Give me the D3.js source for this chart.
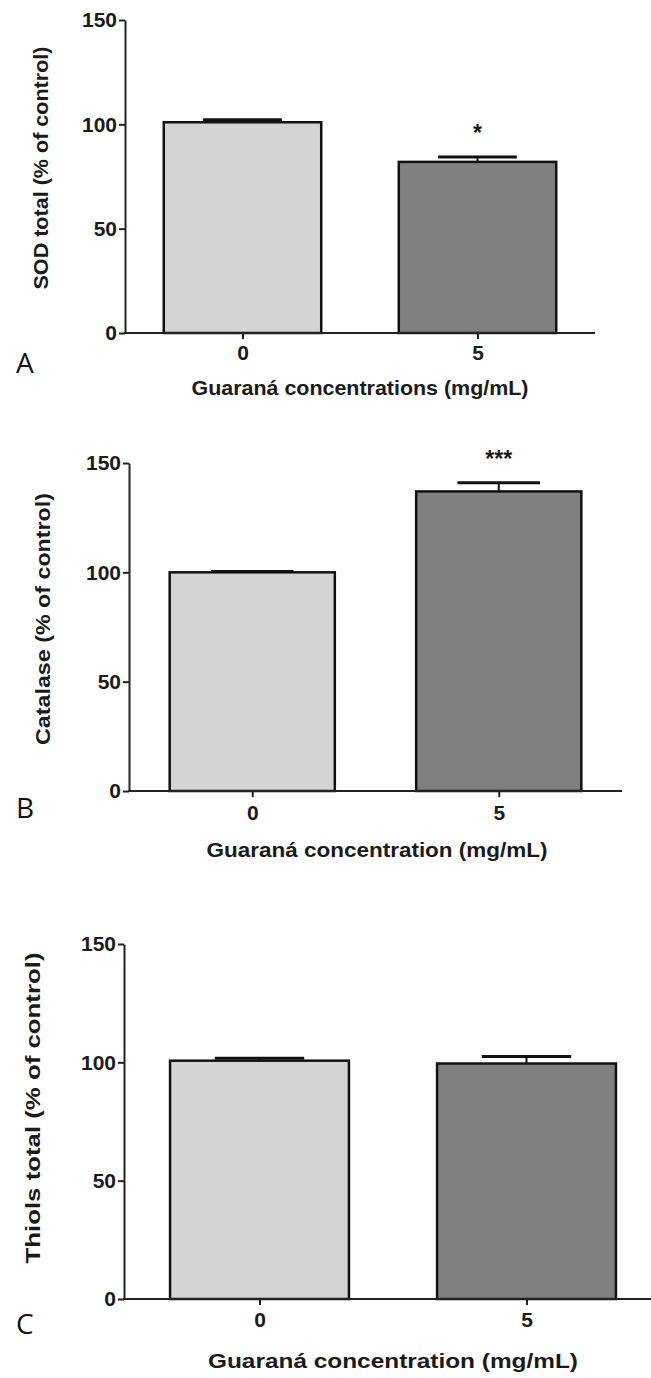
<!DOCTYPE html>
<html>
<head>
<meta charset="utf-8">
<script src="https://cdn.jsdelivr.net/npm/d3@7"></script>
<style>
  body { margin: 0; background: #fff; }
  svg { display: block; }
  .tick text { font-family: "Liberation Sans", Arial, sans-serif; font-weight: bold; font-size: 21px; fill: #1a1a1a; }
  .lbl { font-family: "Liberation Sans", Arial, sans-serif; font-weight: bold; fill: #1a1a1a; }
  .letter { font-family: "Open Sans", sans-serif; font-size: 28px; fill: #111; }
</style>
</head>
<body>
<div id="chart"></div>
<script>
// groups on the x axis
const groups = ["0", "5"];
const yTicks = [0, 50, 100, 150];

// A - SOD
const sodValues = [101, 82];
const sodErrors = [1.2, 2.3];
const sodMarks = ["", "*"];
// B - catalase
const catValues = [100, 137];
const catErrors = [0.4, 4];
const catMarks = ["", "***"];
// C - thiols
const thiolValues = [100.7, 99.5];
const thiolErrors = [1, 3];
const thiolMarks = ["", ""];

const yTitles = ["SOD total (% of control)", "Catalase  (% of control)", "Thiols total  (% of control)"];
const xTitles = ["Guaraná concentrations  (mg/mL)", "Guaraná concentration  (mg/mL)", "Guaraná concentration  (mg/mL)"];
const letters = ["A", "B", "C"];

const barColors = ["#d4d4d4", "#808080"];

const width = 651, height = 1378;
const svg = d3.select("#chart").append("svg")
  .attr("width", width)
  .attr("height", height);

// layout of each panel (pixels)
const panels = [
  { values: sodValues, errors: sodErrors, marks: sodMarks,
    ax: 125, axEnd: 595, xr: [125, 595], top: 20, bottom: 333,
    tickPad: 6, xLabelY: 395, xLabelX: 360, xLabelW: 337,
    yLabelX: 48, yLabelY: 168, yLabelW: 243, letterY: 373 },
  { values: catValues, errors: catErrors, marks: catMarks,
    ax: 129, axEnd: 622, xr: [129, 622], top: 463, bottom: 791,
    tickPad: 8, xLabelY: 857, xLabelX: 377, xLabelW: 341,
    yLabelX: 50, yLabelY: 619, yLabelW: 252, letterY: 818 },
  { values: thiolValues, errors: thiolErrors, marks: thiolMarks,
    ax: 124, axEnd: 651, xr: [126, 660], top: 944, bottom: 1299,
    tickPad: 7, xLabelY: 1368, xLabelX: 393, xLabelW: 370,
    yLabelX: 40, yLabelY: 1108, yLabelW: 311, letterY: 1334 }
];

panels.forEach((p, pi) => {
  const g = svg.append("g");

  const x = d3.scalePoint()
    .domain(groups)
    .range(p.xr)
    .padding(0.5);
  const step = x.step();
  const bw = step * 0.67;

  const y = d3.scaleLinear()
    .domain([0, 150])
    .range([p.bottom, p.top]);

  const rows = groups.map((k, i) => ({ k, v: p.values[i], e: p.errors[i], m: p.marks[i], i }));

  // error bars (upper only)
  rows.forEach(d => {
    const cx = x(d.k);
    g.append("line")
      .attr("x1", cx).attr("x2", cx)
      .attr("y1", y(d.v)).attr("y2", y(d.v + d.e))
      .attr("stroke", "#111").attr("stroke-width", 2);
    g.append("line")
      .attr("x1", cx - bw * 0.25).attr("x2", cx + bw * 0.25)
      .attr("y1", y(d.v + d.e)).attr("y2", y(d.v + d.e))
      .attr("stroke", "#111").attr("stroke-width", 3);
  });

  g.selectAll(".bar")
    .data(rows)
    .enter().append("rect")
    .attr("class", "bar")
    .attr("x", d => x(d.k) - bw / 2)
    .attr("y", d => y(d.v))
    .attr("width", bw)
    .attr("height", d => y(0) - y(d.v))
    .attr("fill", d => barColors[d.i])
    .attr("stroke", "#111")
    .attr("stroke-width", 2.5);

  // significance stars
  g.selectAll(".star")
    .data(rows.filter(d => d.m))
    .enter().append("text")
    .attr("class", "lbl")
    .attr("x", d => x(d.k))
    .attr("y", d => y(d.v + d.e) - 16)
    .attr("text-anchor", "middle")
    .attr("font-size", 23)
    .text(d => d.m);

  // y axis
  g.append("g")
    .attr("transform", `translate(${p.ax},0)`)
    .call(d3.axisLeft(y).tickValues(yTicks).tickSize(6).tickSizeOuter(0).tickPadding(2))
    .call(a => a.selectAll("path, line").attr("stroke", "#222").attr("stroke-width", 2));

  // x axis line
  g.append("line")
    .attr("x1", p.ax - 1).attr("x2", p.axEnd)
    .attr("y1", y(0)).attr("y2", y(0))
    .attr("stroke", "#222").attr("stroke-width", 2);

  g.append("g")
    .attr("transform", `translate(0,${y(0)})`)
    .call(d3.axisBottom(x).tickSize(6).tickPadding(p.tickPad))
    .call(a => a.select(".domain").remove())
    .call(a => a.selectAll("line").attr("stroke", "#222").attr("stroke-width", 2));

  // axis titles
  g.append("text")
    .attr("class", "lbl")
    .attr("x", p.xLabelX)
    .attr("y", p.xLabelY)
    .attr("text-anchor", "middle")
    .attr("font-size", 21)
    .attr("textLength", p.xLabelW)
    .attr("lengthAdjust", "spacingAndGlyphs")
    .text(xTitles[pi]);

  g.append("text")
    .attr("class", "lbl")
    .attr("transform", `translate(${p.yLabelX},${p.yLabelY}) rotate(-90)`)
    .attr("text-anchor", "middle")
    .attr("font-size", 21)
    .attr("textLength", p.yLabelW)
    .attr("lengthAdjust", "spacingAndGlyphs")
    .text(yTitles[pi]);

  g.append("text")
    .attr("class", "letter")
    .attr("x", 16)
    .attr("y", p.letterY)
    .text(letters[pi]);
});
</script>
</body>
</html>
